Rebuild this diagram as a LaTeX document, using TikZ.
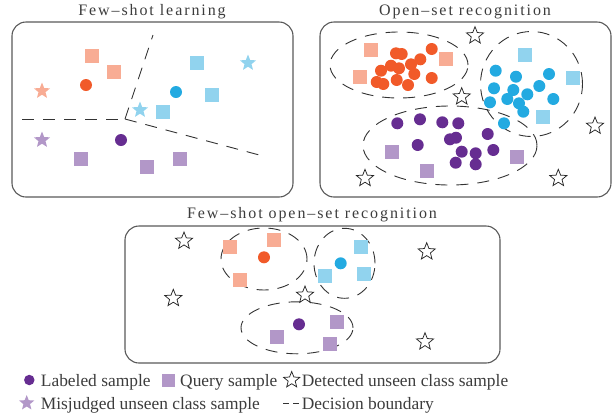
\documentclass[tikz,border=0pt]{standalone}
\usepackage{fontspec}
\setmainfont{Liberation Serif}
\usetikzlibrary{shapes.geometric}
\definecolor{cOr}{RGB}{241,90,41}
\definecolor{cSal}{RGB}{248,172,148}
\definecolor{cBl}{RGB}{35,170,225}
\definecolor{cLb}{RGB}{145,211,238}
\definecolor{cPu}{RGB}{102,45,145}
\definecolor{cLp}{RGB}{178,151,200}
\definecolor{cTxt}{RGB}{60,60,60}
\begin{document}
\begin{tikzpicture}[x=1pt,y=-1pt,
 dotnode/.style={circle,inner sep=0pt,minimum size=12pt,fill=#1,draw=none},
 sqnode/.style={rectangle,inner sep=0pt,minimum size=14pt,fill=#1,draw=none},
 fstar/.style={star,star points=5,star point ratio=2.3,inner sep=0pt,minimum size=17pt,fill=#1,draw=none},
 ostar/.style={star,star points=5,star point ratio=2.3,inner sep=0pt,minimum size=18pt,draw=black!85,line width=0.75pt,fill=white},
 panel/.style={draw=black!65,line width=1.1pt,rounded corners=14pt,inner sep=0pt},
 bound/.style={draw=black!80,line width=0.9pt,dash pattern=on 12pt off 9pt},
 region/.style={ellipse,bound,inner sep=0pt},
 title/.style={font=\fontsize{16}{19}\selectfont\addfontfeatures{LetterSpace=12},text=cTxt,inner sep=0pt,anchor=base},
 legtext/.style={font=\fontsize{17.4}{20}\selectfont,text=cTxt,inner sep=0pt,anchor=base west},
]
\useasboundingbox (0,0) rectangle (613,416);

% ---------- titles ----------
\node[title] (t1) at (152,15) {Few\textendash shot learning};
\node[title] (t2) at (465,15) {Open\textendash set recognition};
\node[title] (t3) at (312,218) {Few\textendash shot open\textendash set recognition};

% ---------- panels ----------
\node[panel,minimum width=281pt,minimum height=175pt] (box1) at (152.5,109.5) {};
\node[panel,minimum width=291pt,minimum height=175pt] (box2) at (465.5,109.5) {};
\node[panel,minimum width=375pt,minimum height=137pt] (box3) at (312.5,294.5) {};

% ---------- panel 1: few-shot learning ----------
\coordinate (J) at (125,119);
\coordinate (La) at (22,119);
\coordinate (Lb) at (153,35);
\coordinate (Lc) at (263,156);
\draw[bound] (La) -- (J);
\draw[bound] (J) -- (Lb);
\draw[bound] (J) -- (Lc);

\node[sqnode=cSal] (a1) at (92,56) {};
\node[sqnode=cSal] (a2) at (114,72) {};
\node[dotnode=cOr] (a3) at (86,85) {};
\node[fstar=cSal] (a4) at (42,91) {};
\node[sqnode=cLb] (a5) at (197,63) {};
\node[sqnode=cLb] (a6) at (212,95) {};
\node[sqnode=cLb] (a7) at (163,112) {};
\node[dotnode=cBl] (a8) at (176,92) {};
\node[fstar=cLb] (a9) at (248,63) {};
\node[fstar=cLb] (a10) at (140,110) {};
\node[fstar=cLp] (a11) at (42,140) {};
\node[dotnode=cPu] (a12) at (121,140) {};
\node[sqnode=cLp] (a13) at (81,159) {};
\node[sqnode=cLp] (a14) at (147,167) {};
\node[sqnode=cLp] (a15) at (180,159) {};

% ---------- panel 2: open-set recognition ----------
\node[region,minimum width=138pt,minimum height=66pt] (e2o) at (399,65) {};
\node[region,minimum width=102pt,minimum height=105pt] (e2b) at (531.5,84) {};
\node[region,minimum width=174pt,minimum height=79pt] (e2p) at (450,145.5) {};

\foreach \x/\y [count=\i] in {396/53.3,401.7/54,431.7/49,420.3/59.3,391/65.7,399/68.3,411/64.3,381/70.7,414.3/74,431.7/78,396.7/80,376.7/82,383.3/84,408/85}
  \node[dotnode=cOr] (bo\i) at (\x,\y) {};
\foreach \x/\y [count=\i] in {371/50,446/59,360/76.7}
  \node[sqnode=cSal] (bqo\i) at (\x,\y) {};

\foreach \x/\y [count=\i] in {495.7/70.7,516/76.7,549/74,494/88.3,513.3/90,527.3/94.3,539.3/86,490/102.3,507.3/99,519/103.3,553.3/99,523.3/111.7,504/123.3}
  \node[dotnode=cBl] (bb\i) at (\x,\y) {};
\foreach \x/\y [count=\i] in {525/55,573.3/77.7,543.3/116.7}
  \node[sqnode=cLb] (bqb\i) at (\x,\y) {};

\foreach \x/\y [count=\i] in {397.3/123.3,420/119.3,442.3/122.3,458.3/123.3,487.7/134,450/139.3,456/137.7,417.7/145,461.7/151.7,475.7/153.3,493.3/150,455.7/162.7,475.7/164.3}
  \node[dotnode=cPu] (bp\i) at (\x,\y) {};
\foreach \x/\y [count=\i] in {391.7/151.7,426.7/170.7,516.7/156.7}
  \node[sqnode=cLp] (bqp\i) at (\x,\y) {};

\foreach \x/\y [count=\i] in {475/35.7,461.7/96.7,595/126,365/178.3,558.3/178.3}
  \node[ostar] (bs\i) at (\x,\y) {};

% ---------- panel 3: few-shot open-set recognition ----------
\node[region,minimum width=86pt,minimum height=62pt] (e3o) at (264,259) {};
\node[region,minimum width=61pt,minimum height=70pt] (e3b) at (344.5,263.3) {};
\node[region,minimum width=112pt,minimum height=52pt] (e3p) at (297,327.8) {};

\node[sqnode=cSal] (c1) at (230,246.7) {};
\node[sqnode=cSal] (c2) at (274,240) {};
\node[sqnode=cSal] (c3) at (240,280) {};
\node[dotnode=cOr] (c4) at (264,257.3) {};
\node[sqnode=cLb] (c5) at (360.7,246.7) {};
\node[sqnode=cLb] (c6) at (325,276) {};
\node[sqnode=cLb] (c7) at (364,274) {};
\node[dotnode=cBl] (c8) at (340.7,263.3) {};
\node[dotnode=cPu] (c9) at (299,324.3) {};
\node[sqnode=cLp] (c10) at (336.7,321.7) {};
\node[sqnode=cLp] (c11) at (276.7,337.3) {};
\node[sqnode=cLp] (c12) at (330,344) {};

\foreach \x/\y [count=\i] in {184/241,426.7/251.7,173.3/298.3,305/295,425/341.7}
  \node[ostar] (cs\i) at (\x,\y) {};

% ---------- legend ----------
\node[dotnode=cPu,minimum size=10.5pt] (k1) at (29.3,380) {};
\node[legtext] (k1t) at (40.7,386) {Labeled sample};
\node[sqnode=cLp,minimum size=13pt] (k2) at (168,380) {};
\node[legtext] (k2t) at (180,386) {Query sample};
\node[ostar,minimum size=17pt] (k3) at (291.7,380) {};
\node[legtext] (k3t) at (301.7,386) {Detected unseen class sample};
\node[fstar=cLp,minimum size=16pt] (k4) at (26.7,403) {};
\node[legtext] (k4t) at (40.7,409.3) {Misjudged unseen class sample};
\coordinate (kdA) at (283,403.5);
\coordinate (kdB) at (299,403.5);
\draw[draw=black!80,line width=0.9pt,dash pattern=on 6pt off 4pt] (kdA) -- (kdB);
\node[legtext] (k5t) at (301.7,409.3) {Decision boundary};
\end{tikzpicture}
\end{document}
